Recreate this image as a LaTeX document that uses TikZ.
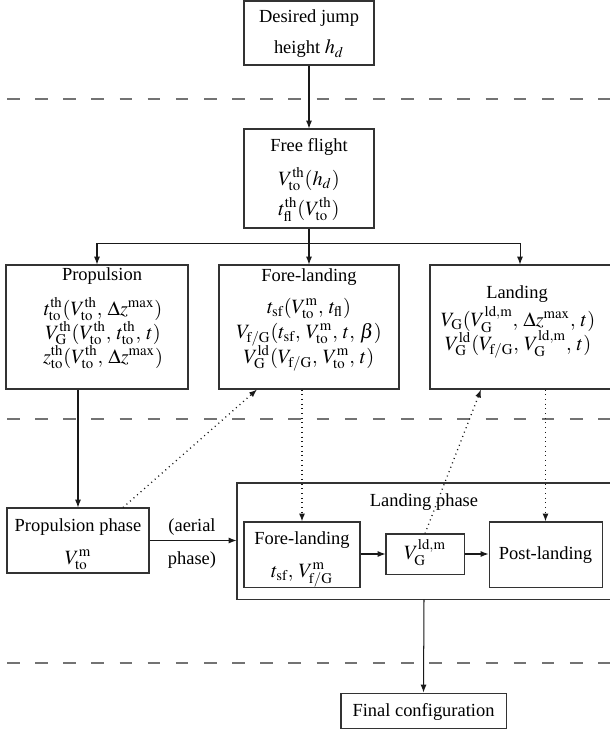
\documentclass[tikz,border=0pt]{standalone}
\usepackage{mathptmx}
\usepackage[no-math]{fontspec}
\setmainfont{Liberation Serif}
\DeclareMathSizes{10}{11}{8}{6}
\usetikzlibrary{arrows.meta,calc}
\newcommand\rmx[1]{\mathrm{#1}}
\newcommand\cc{,\:}
\begin{document}
\begin{tikzpicture}[x=0.5418pt,y=-0.5418pt,
  box/.style={draw=black!80,line width=0.55pt,inner sep=0pt},
  bx/.style 2 args={box,minimum width={#1*0.5418pt},minimum height={#2*0.5418pt}},
  txt/.style={inner sep=0pt,anchor=base,font=\fontsize{10}{12}\selectfont},
  arr/.style={draw=black!90,line width=0.55pt,-{Latex[length=4.3pt,width=3.3pt]}},
  darr/.style={arr,dotted,line width=0.7pt},
  dsh/.style={draw=black!55,line width=0.8pt,dash pattern=on 6.8pt off 8.45pt}]
\useasboundingbox (0,0) rectangle (609,732);

% separators
\draw[dsh] (7,99) -- (620,99);
\draw[dsh] (7,419) -- (620,419);
\draw[dsh] (7,663) -- (620,663);

% boxes
\node[bx={130}{64}] (desired) at (309,33) {};
\node[bx={130}{99}] (free) at (309,178.5) {};
\node[bx={182}{124}] (prop) at (97,327) {};
\node[bx={180}{124}] (fore) at (309,327) {};
\node[bx={184}{124}] (land) at (522,327) {};
\node[bx={142}{65}] (propphase) at (78,540.5) {};
\node[bx={374}{116}] (bigbox) at (424,541) {};
\node[bx={116}{65}] (innerfore) at (302,554.5) {};
\node[bx={78}{40}] (vbox) at (425,554) {};
\node[bx={113}{65}] (post) at (545.5,554.5) {};
\node[bx={165}{35}] (final) at (423.5,710.5) {};

% texts (placed at baselines)
\node[txt] (desiredA) at (309,23) {Desired jump};
\node[txt] (desiredB) at (309,54) {height $h_d$};
\node[txt] (freeA) at (309,151) {Free flight};
\node[txt] (freeB) at (309,185) {$V^{\rmx{th}}_{\rmx{to}}(h_d)$};
\node[txt] (freeC) at (309,215) {$t^{\rmx{th}}_{\rmx{fl}}(V^{\rmx{th}}_{\rmx{to}})$};

\node[txt] (propA) at (102,280) {Propulsion};
\node[txt] (propB) at (103,315) {$t^{\rmx{th}}_{\rmx{to}}(V^{\rmx{th}}_{\rmx{to}}\cc\Delta z^{\max})$};
\node[txt] (propC) at (103,339) {$V^{\rmx{th}}_{\rmx{G}}(V^{\rmx{th}}_{\rmx{to}}\cc t^{\rmx{th}}_{\rmx{to}}\cc t)$};
\node[txt] (propD) at (103,363) {$z^{\rmx{th}}_{\rmx{to}}(V^{\rmx{th}}_{\rmx{to}}\cc\Delta z^{\max})$};

\node[txt] (foreA) at (309,281) {Fore-landing};
\node[txt] (foreB) at (309,313) {$t_{\rmx{sf}}(V^{\rmx{m}}_{\rmx{to}}\cc t_{\rmx{fl}})$};
\node[txt] (foreC) at (309,338) {$V_{\rmx{f/G}}(t_{\rmx{sf}}\cc V^{\rmx{m}}_{\rmx{to}}\cc t\cc\beta)$};
\node[txt] (foreD) at (309,363) {$V^{\rmx{ld}}_{\rmx{G}}(V_{\rmx{f/G}}\cc V^{\rmx{m}}_{\rmx{to}}\cc t)$};

\node[txt] (landA) at (517,298) {Landing};
\node[txt] (landB) at (518,326) {$V_{\rmx{G}}(V^{\rmx{ld,m}}_{\rmx{G}}\cc\Delta z^{\max}\cc t)$};
\node[txt] (landC) at (518,350) {$V^{\rmx{ld}}_{\rmx{G}}(V_{\rmx{f/G}}\cc V^{\rmx{ld,m}}_{\rmx{G}}\cc t)$};

\node[txt] (ppA) at (78,531) {Propulsion phase};
\node[txt] (ppB) at (78,564) {$V^{\rmx{m}}_{\rmx{to}}$};

\node[txt] (bigA) at (424,506) {Landing phase};
\node[txt] (ifA) at (302,544) {Fore-landing};
\node[txt] (ifB) at (302,577) {$t_{\rmx{sf}}\cc V^{\rmx{m}}_{\rmx{f/G}}$};
\node[txt] (vA) at (425,559) {$V^{\rmx{ld,m}}_{\rmx{G}}$};
\node[txt] (postA) at (545.5,559) {Post-landing};
\node[txt] (finalA) at (423.5,716) {Final configuration};

\node[txt] (aerA) at (192,531) {(aerial};
\node[txt] (aerB) at (192,564) {phase)};

% connectors
\draw[arr] (desired.south) -- (free.north);
\coordinate (bus) at ($(free.south)+(0,15)$);
\draw[arr] (free.south) -- (bus) -| (prop.north);
\draw[arr] (bus) -- (fore.north);
\draw[arr] (bus) -| ($(land.north)+(-2,0)$);
\draw[arr] (prop.south -| propphase.north) -- (propphase.north);
\draw[arr] (propphase.east) -- (propphase.east -| bigbox.west);
\draw[darr] ($(propphase.north)+(45,0)$) -- ($(fore.south)+(-52,0)$);
\draw[darr] (innerfore.north |- fore.south) -- (innerfore.north);
\draw[darr] (vbox.north) -- ($(land.south)+(-41,0)$);
\draw[darr] (post.north |- land.south) -- (post.north);
\draw[arr] (innerfore.east |- vbox.west) -- (vbox.west);
\draw[arr] (vbox.east) -- (vbox.east -| post.west);
\draw[arr] (bigbox.south) -- (final.north);
\end{tikzpicture}
\end{document}
